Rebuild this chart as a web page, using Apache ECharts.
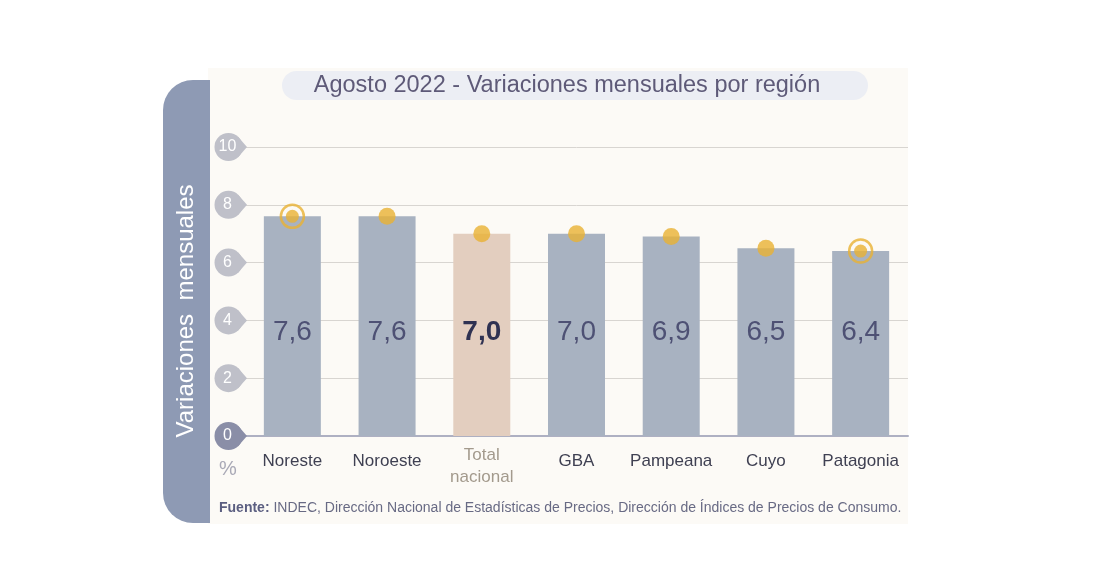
<!DOCTYPE html>
<html>
<head>
<meta charset="utf-8">
<script src="https://cdn.jsdelivr.net/npm/echarts@6/dist/echarts.min.js"></script>
<style>
html,body{margin:0;padding:0;background:#ffffff;}
#chart{width:1102px;height:573px;}
</style>
</head>
<body>
<div id="chart"></div>
<script>
const categories = ['Noreste', 'Noroeste', 'Total nacional', 'GBA', 'Pampeana', 'Cuyo', 'Patagonia'];
const values = [7.6, 7.6, 7.0, 7.0, 6.9, 6.5, 6.4];
const valueLabels = ['7,6', '7,6', '7,0', '7,0', '6,9', '6,5', '6,4'];
const ringed = ['Noreste', 'Patagonia'];
const yTicks = [0, 2, 4, 6, 8, 10];
const titleText = 'Agosto 2022 - Variaciones mensuales por región';
const yAxisTitle = 'Variaciones  mensuales';
const sourceBold = 'Fuente:';
const sourceText = ' INDEC, Dirección Nacional de Estadísticas de Precios, Dirección de Índices de Precios de Consumo.';

const FONT = '"Liberation Sans", Arial, sans-serif';
const chart = echarts.init(document.getElementById('chart'));

const barData = values.map((v, i) => ({
  value: v,
  itemStyle: { color: categories[i] === 'Total nacional' ? '#e3cebf' : '#a8b2c1' },
  label: categories[i] === 'Total nacional'
    ? { fontWeight: 'bold', color: '#2f3252' }
    : {}
}));

const dotData = values.map((v, i) => ({
  value: [categories[i], v],
  symbolSize: ringed.includes(categories[i]) ? 13 : 17
}));
const ringData = values.map((v, i) => ringed.includes(categories[i]) ? [categories[i], v] : null).filter(d => d);

option = {
  animation: false,
  backgroundColor: '#ffffff',
  grid: { left: 245, right: 194, top: 147, bottom: 137, containLabel: false },
  graphic: [
    { type: 'rect', z: -10, shape: { x: 208, y: 68, width: 700, height: 456 }, style: { fill: '#fcfaf6' } },
    { type: 'rect', z: -9, shape: { x: 163, y: 80, width: 47, height: 443, r: [30, 0, 0, 30] }, style: { fill: '#8e9ab4' } },
    { type: 'text', z: 5, x: 186, y: 311, rotation: Math.PI / 2,
      style: { text: yAxisTitle, fill: '#ffffff', font: '24px ' + FONT, textAlign: 'center', textVerticalAlign: 'middle' } },
    { type: 'rect', z: -8, shape: { x: 282, y: 71, width: 586, height: 29, r: 14.5 }, style: { fill: '#eceef4' } },
    { type: 'text', z: 5, x: 567, y: 86,
      style: { text: titleText, fill: '#5e5a78', font: '23.5px ' + FONT, textAlign: 'center', textVerticalAlign: 'middle' } },
    { type: 'text', z: 5, x: 228, y: 469,
      style: { text: '%', fill: '#a9a9b6', font: '20px ' + FONT, textAlign: 'center', textVerticalAlign: 'middle' } },
    { type: 'text', z: 5, x: 219, y: 508,
      style: { text: '{b|' + sourceBold + '}{n|' + sourceText + '}', textVerticalAlign: 'middle',
        rich: {
          b: { fontFamily: FONT, fontSize: 14, fontWeight: 'bold', fill: '#5b5e80', color: '#5b5e80' },
          n: { fontFamily: FONT, fontSize: 14, fill: '#686a84', color: '#686a84' }
        } } }
  ],
  xAxis: {
    type: 'category',
    data: categories,
    axisLine: { show: true, lineStyle: { color: '#aeb0c2', width: 2 } },
    axisTick: { show: false },
    axisLabel: {
      margin: 8,
      interval: 0,
      formatter: v => v === 'Total nacional' ? '{t|Total}\n{t|nacional}' : '{s|' + v + '}',
      rich: {
        s: { fontFamily: FONT, fontSize: 17, color: '#3f4052', lineHeight: 34 },
        t: { fontFamily: FONT, fontSize: 17, color: '#a39a8d', lineHeight: 22 }
      }
    }
  },
  yAxis: {
    type: 'value',
    min: 0, max: 10, interval: 2,
    axisLabel: { show: false },
    axisLine: { show: false },
    axisTick: { show: false },
    splitLine: { lineStyle: { color: '#d8d5d1', width: 1 } }
  },
  series: [
    {
      type: 'bar',
      data: barData,
      barWidth: 57,
      z: 2,
      label: {
        show: true,
        position: 'insideBottom',
        distance: 90,
        fontFamily: FONT,
        fontSize: 28,
        color: '#4e5174',
        formatter: p => valueLabels[p.dataIndex]
      }
    },
    {
      type: 'scatter',
      data: ringData,
      symbol: 'circle',
      symbolSize: 23,
      z: 3,
      itemStyle: { color: 'rgba(0,0,0,0)', borderColor: '#e8b133', borderWidth: 2.5 }
    },
    {
      type: 'scatter',
      data: dotData,
      symbol: 'circle',
      z: 4,
      itemStyle: { color: '#e8b133' }
    },
    {
      type: 'custom',
      data: yTicks.map(t => [categories[0], t]),
      z: 6,
      clip: false,
      renderItem: function (params, api) {
        const pt = api.coord([api.value(0), api.value(1)]);
        const cy = pt[1];
        const cx = params.coordSys.x - 16.5;
        const r = 14;
        const a = 48 * Math.PI / 180;
        const fill = api.value(1) === 0 ? '#8a8ea7' : '#bfc0c9';
        return {
          type: 'group',
          children: [
            { type: 'polygon', shape: { points: [[cx + r * Math.cos(a), cy - r * Math.sin(a)], [params.coordSys.x + 2, cy], [cx + r * Math.cos(a), cy + r * Math.sin(a)]] }, style: { fill: fill } },
            { type: 'circle', shape: { cx: cx, cy: cy, r: r }, style: { fill: fill } },
            { type: 'text', x: cx - 1, y: cy, style: { text: String(api.value(1)), fill: '#ffffff', font: '16px ' + FONT, textAlign: 'center', textVerticalAlign: 'middle' } }
          ]
        };
      }
    }
  ]
};
chart.setOption(option);
</script>
</body>
</html>
